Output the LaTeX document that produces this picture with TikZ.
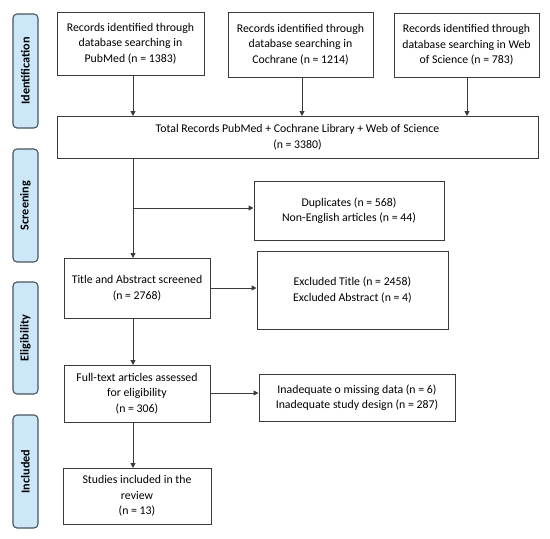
\documentclass[tikz,border=0pt]{standalone}
\usepackage{fontspec}
\setmainfont{Carlito}
\usetikzlibrary{arrows.meta}
\definecolor{sidefill}{HTML}{CCE8F8}
\definecolor{sidedraw}{HTML}{46545E}
\definecolor{boxdraw}{HTML}{3A3A3A}
\begin{document}
\begin{tikzpicture}[x=1pt,y=-1pt,
  box/.style={draw=boxdraw,line width=1pt,fill=white,inner sep=0pt,align=center,font=\fontsize{11.8}{15.5}\selectfont},
  side/.style={draw=sidedraw,line width=1.1pt,fill=sidefill,rounded corners=4pt,inner sep=0pt},
  sidetext/.style={rotate=90,font=\fontsize{12.2}{14}\bfseries\selectfont,inner sep=0pt},
  arr/.style={draw=boxdraw,line width=1pt,-{Triangle[length=5pt,width=5pt]}},
  ln/.style={draw=boxdraw,line width=1pt}]
\useasboundingbox[fill=white] (0,0) rectangle (550,539);
% side labels
\node[side,minimum width=25pt,minimum height=114pt] (s1) at (25.5,71) {};
\node[sidetext] (t1) at (s1.center) {Identification};
\node[side,minimum width=25pt,minimum height=113pt] (s2) at (25.5,205.5) {};
\node[sidetext] (t2) at (s2.center) {Screening};
\node[side,minimum width=25pt,minimum height=112pt] (s3) at (25.5,338) {};
\node[sidetext] (t3) at (s3.center) {Eligibility};
\node[side,minimum width=25pt,minimum height=113pt] (s4) at (25.5,471.5) {};
\node[sidetext] (t4) at (s4.center) {Included};
% boxes
\node[box,minimum width=147pt,minimum height=63pt] (pub) at (130.5,43.5) {Records identified through\\database searching in\\PubMed (n = 1383)};
\node[box,minimum width=145pt,minimum height=65pt] (coch) at (300.5,44.5) {Records identified through\\database searching in\\Cochrane (n = 1214)};
\node[box,minimum width=145pt,minimum height=64pt] (wos) at (466.5,45) {Records identified through\\database searching in Web\\of Science (n = 783)};
\node[box,minimum width=481pt,minimum height=42pt] (tot) at (297.5,137) {Total Records PubMed + Cochrane Library + Web of Science\\(n = 3380)};
\node[box,minimum width=190pt,minimum height=59pt] (dup) at (349,210.5) {Duplicates (n = 568)\\Non-English articles (n = 44)};
\node[box,minimum width=146pt,minimum height=60pt] (tit) at (137,288) {Title and Abstract screened\\(n = 2768)};
\node[box,minimum width=191pt,minimum height=78pt] (exc) at (352.5,290) {Excluded Title (n = 2458)\\Excluded Abstract (n = 4)};
\node[box,minimum width=146pt,minimum height=57pt] (ful) at (137,393.5) {Full-text articles assessed\\for eligibility\\(n = 306)};
\node[box,minimum width=196pt,minimum height=47pt] (ina) at (357,397.5) {Inadequate o missing data (n = 6)\\Inadequate study design (n = 287)};
\node[box,minimum width=148pt,minimum height=56pt] (stu) at (137,496) {Studies included in the\\review\\(n = 13)};
% connectors
\coordinate (pt) at (133,116);
\coordinate (ct) at (302,116);
\coordinate (wt) at (467,116);
\draw[arr] (pub.south -| pt) -- (pt);
\draw[arr] (coch.south -| ct) -- (ct);
\draw[arr] (wos.south -| wt) -- (wt);
\coordinate (br) at (133,208);
\coordinate (tt) at (133,258);
\draw[arr] (tot.south -| tt) -- (tt);
\draw[arr] (br) -- (br -| dup.west);
\coordinate (tr) at (210,288);
\draw[arr] (tr) -- (tr -| exc.west);
\coordinate (ft) at (133,365);
\draw[arr] (tit.south -| ft) -- (ft);
\coordinate (fr) at (210,393);
\draw[arr] (fr) -- (fr -| ina.west);
\coordinate (st) at (133,468);
\draw[arr] (ful.south -| st) -- (st);
\end{tikzpicture}
\end{document}
